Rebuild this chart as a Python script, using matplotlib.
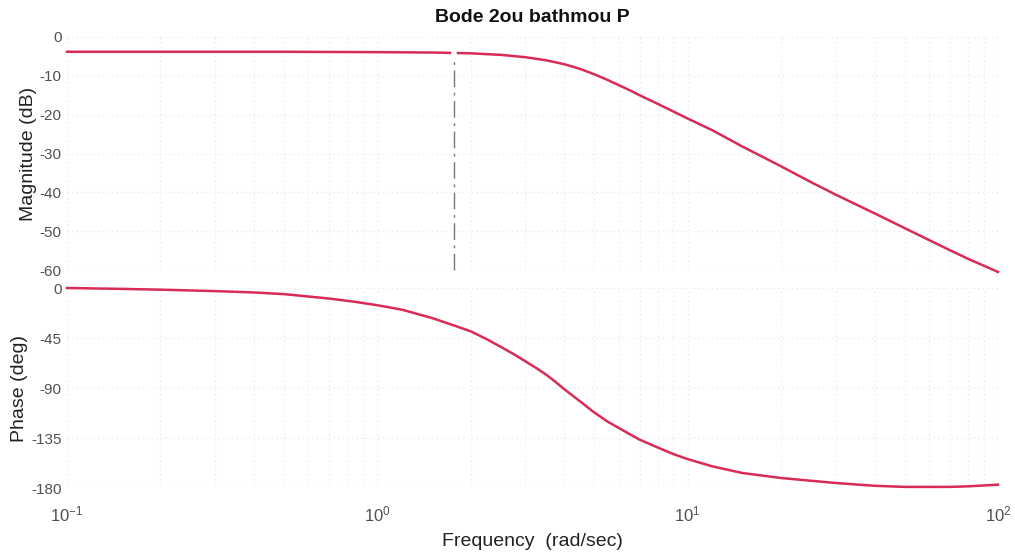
import matplotlib
matplotlib.use("Agg")
import matplotlib.pyplot as plt
from matplotlib import font_manager

# Frequency response of the second-order system (rad/sec, dB, deg)
mag_freq = [0.1, 0.2, 0.5, 1, 1.5, 2, 2.5, 3, 3.5, 4, 4.5, 5, 5.5, 6, 6.5, 7,
            8, 9, 10, 12, 15, 20, 25, 30, 40, 50, 60, 70, 80, 100]
magnitude_db = [-3.8, -3.8, -3.8, -3.9, -4.0, -4.2, -4.6, -5.2, -6.0, -7.0,
                -8.2, -9.6, -11.0, -12.4, -13.7, -15.0, -17.2, -19.2, -21.0,
                -24.0, -28.2, -33.3, -37.4, -40.6, -45.4, -49.2, -52.3, -54.9,
                -57.1, -60.5]

phase_freq = [0.1, 0.15, 0.2, 0.3, 0.4, 0.5, 0.7, 0.85, 1, 1.2, 1.5, 1.8, 2,
              2.25, 2.5, 2.75, 3, 3.25, 3.5, 3.75, 4, 4.5, 5, 5.5, 6, 6.5, 7,
              8, 9, 10, 12, 15, 20, 25, 30, 40, 50, 60, 70, 80, 100]
phase_deg = [0, -0.8, -1.5, -2.8, -4.0, -5.5, -9.5, -12.5, -15.5, -19.5, -27,
             -34.5, -39, -46, -53, -59.5, -66, -72, -78, -84.5, -91, -102,
             -112, -120, -126, -131.5, -136.5, -143.5, -149.5, -154, -160.5,
             -166.5, -171, -173.5, -175.5, -178, -179, -179, -179, -178.5,
             -177]
marker_freq = 1.77

mag_ticks = [0, -10, -20, -30, -40, -50, -60]
phase_ticks = [0, -45, -90, -135, -180]
freq_ticks = [0.1, 1, 10, 100]
freq_ticklabels = [r"$10^{-1}$", r"$10^{0}$", r"$10^{1}$", r"$10^{2}$"]

available = {f.name for f in font_manager.fontManager.ttflist}
family = next((f for f in ["Liberation Sans Narrow", "Liberation Sans", "DejaVu Sans"]
               if f in available), "DejaVu Sans")
plt.rcParams["font.family"] = [family, "DejaVu Sans"]
plt.rcParams["mathtext.fontset"] = "custom"
plt.rcParams["mathtext.rm"] = family
plt.rcParams["mathtext.it"] = family
plt.rcParams["axes.unicode_minus"] = False

W, H = 1015, 554
fig = plt.figure(figsize=(W / 100, H / 100), dpi=100)
fig.patch.set_facecolor("white")

left, right = 67 / W, 998 / W
ax_mag = fig.add_axes([left, 1 - 270 / H, right - left, (270 - 37) / H])
ax_ph = fig.add_axes([left, 1 - 488 / H, right - left, (488 - 288) / H])

curve_color = "#d92b55"
tick_color = "#505050"
label_color = "#222222"
grid_color = "#e6e6e6"

for ax in (ax_mag, ax_ph):
    ax.set_xscale("log")
    ax.set_xlim(0.1, 100)
    for s in ax.spines.values():
        s.set_visible(False)
    ax.tick_params(which="both", length=0, colors=tick_color, labelsize=11, pad=4)
    ax.grid(True, which="both", color=grid_color, linestyle=(0, (1, 3)), linewidth=0.8)
    ax.set_facecolor("none")

ax_mag.plot(mag_freq, magnitude_db, color=curve_color, lw=1.8, clip_on=False,
            zorder=3, solid_joinstyle="round")
ax_mag.set_ylim(-60, 0)
ax_mag.set_yticks(mag_ticks)
ax_mag.set_xticks(freq_ticks)
ax_mag.set_xticklabels([])
ax_mag.set_ylabel("Magnitude (dB)", fontsize=14, color=label_color, labelpad=2)
ax_mag.axvline(marker_freq, ymin=0, ymax=(60 - 4.5) / 60, color="#777777",
               lw=1.0, linestyle=(0, (12, 4, 2, 4)), zorder=2, clip_on=False)
ax_mag.plot([marker_freq], [-3.9], marker="|", color="white", markersize=9,
            markeredgewidth=4, zorder=4)
ax_mag.set_title("Bode 2ou bathmou P", fontsize=14, fontweight="bold",
                 color="#111111", pad=11)

ax_ph.plot(phase_freq, phase_deg, color=curve_color, lw=1.8, clip_on=False,
           zorder=3, solid_joinstyle="round")
ax_ph.set_ylim(-180, 0)
ax_ph.set_yticks(phase_ticks)
ax_ph.set_xticks(freq_ticks)
ax_ph.set_xticklabels(freq_ticklabels, fontsize=12)
ax_ph.tick_params(axis="x", pad=12)
ax_ph.set_ylabel("Phase (deg)", fontsize=14, color=label_color, labelpad=2)
ax_ph.set_xlabel("Frequency  (rad/sec)", fontsize=14, color=label_color, labelpad=6)

fig.savefig("out.png", dpi=100, facecolor="white")
